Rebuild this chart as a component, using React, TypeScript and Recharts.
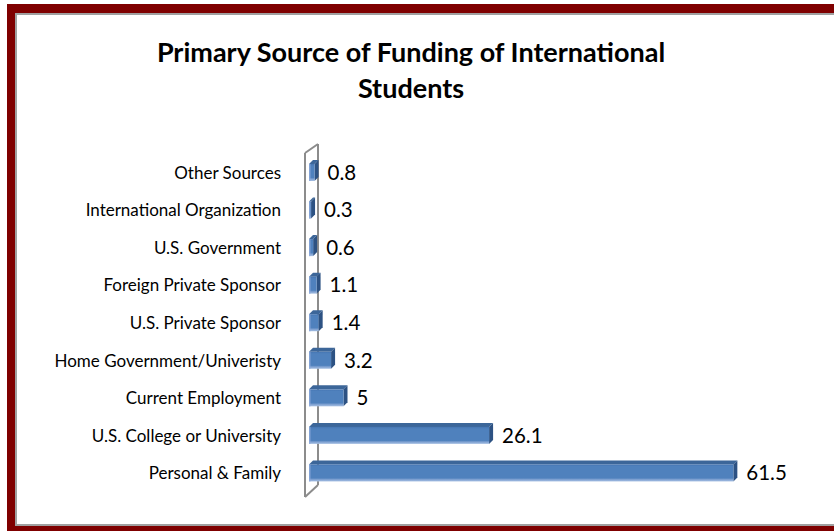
import React from "react";
import { BarChart, Bar, XAxis, YAxis, LabelList } from "recharts";

// data (percent of students)
const categories = [
  "Other Sources",
  "International Organization",
  "U.S. Government",
  "Foreign Private Sponsor",
  "U.S. Private Sponsor",
  "Home Government/Univeristy",
  "Current Employment",
  "U.S. College or University",
  "Personal & Family",
];
const values = [0.8, 0.3, 0.6, 1.1, 1.4, 3.2, 5, 26.1, 61.5];
const titleLines = ["Primary Source of Funding of International", "Students"];

const data = categories.map((name, i) => ({ name, value: values[i] }));

const W = 834;
const H = 531;
const AXIS_W = 309;
const MARGIN = { top: 154, right: 42, bottom: 39, left: 0 };
const FONT = "Lato, 'Open Sans', sans-serif";
const DEPTH = 4;

function Bar3D(props: any) {
  const { x, y, width, height } = props;
  if (width == null || height == null) return null;
  const w = Math.max(width, 1.5);
  const d = DEPTH;
  return (
    <g>
      <polygon
        points={`${x},${y} ${x + d},${y - d} ${x + w + d},${y - d} ${x + w},${y}`}
        fill="#3c6699"
      />
      <polygon
        points={`${x + w},${y} ${x + w + d},${y - d} ${x + w + d},${y + height - d} ${x + w},${y + height}`}
        fill="#2d5283"
      />
      <rect x={x} y={y} width={w} height={height} fill="url(#frontFace)" />
      <rect x={x} y={y} width={1.5} height={height} fill="#8eaadb" opacity={0.8} />
    </g>
  );
}

function Wall() {
  // 3D side wall behind the category axis
  const fx = AXIS_W - 4;
  const bx = AXIS_W + 9;
  const top = MARGIN.top - 1;
  const bottom = H - MARGIN.bottom + 5;
  return (
    <svg
      width={W}
      height={H}
      style={{ position: "absolute", left: 0, top: 0 }}
    >
      <g stroke="#8c8c8c" strokeWidth={2} fill="none">
        <line x1={fx} y1={top} x2={fx} y2={bottom} />
        <line x1={bx} y1={top - 9} x2={bx} y2={bottom - 12} />
        <line x1={fx} y1={top} x2={bx} y2={top - 9} />
        <line x1={fx} y1={bottom} x2={bx} y2={bottom - 12} />
      </g>
    </svg>
  );
}

export default function App() {
  return (
    <div
      style={{
        position: "absolute",
        left: 0,
        top: 0,
        width: W,
        height: H,
        overflow: "hidden",
        background: "#fff",
      }}
    >
      {/* maroon frame */}
      <div
        style={{
          position: "absolute",
          left: 7,
          top: 4,
          width: 900,
          height: 600,
          background: "#7f0000",
        }}
      />
      <div
        style={{
          position: "absolute",
          left: 15,
          top: 13,
          width: 900,
          height: 509,
          background: "#fff",
          border: "2px solid #a0a0a0",
        }}
      />
      <div
        style={{
          position: "absolute",
          left: 0,
          top: 33.5,
          width: 822,
          textAlign: "center",
          fontFamily: FONT,
          fontWeight: 700,
          fontSize: 27,
          lineHeight: "36px",
          color: "#000",
        }}
      >
        {titleLines.map((t) => (
          <div key={t}>{t}</div>
        ))}
      </div>
      <Wall />
      <div style={{ position: "absolute", left: 0, top: 0 }}>
        <BarChart width={W} height={H} data={data} layout="vertical" margin={MARGIN}>
          <defs>
            <linearGradient id="frontFace" x1="0" y1="0" x2="0" y2="1">
              <stop offset="0" stopColor="#4575b2" />
              <stop offset="0.12" stopColor="#4f81bd" />
              <stop offset="0.8" stopColor="#4f81bd" />
              <stop offset="0.88" stopColor="#7c9fd0" />
              <stop offset="1" stopColor="#a7c0e3" />
            </linearGradient>
          </defs>
          <XAxis type="number" domain={[0, 70]} hide />
          <YAxis
            type="category"
            dataKey="name"
            width={AXIS_W}
            axisLine={false}
            tickLine={false}
            tickSize={0}
            tickMargin={28}
            interval={0}
            tick={{ fill: "#000", fontSize: 17, fontFamily: FONT }}
          />
          <Bar dataKey="value" barSize={17} shape={<Bar3D />} isAnimationActive={false}>
            <LabelList
              dataKey="value"
              position="right"
              offset={13}
              fill="#000"
              fontSize={20.5}
              fontFamily={FONT}
            />
          </Bar>
        </BarChart>
      </div>
    </div>
  );
}
